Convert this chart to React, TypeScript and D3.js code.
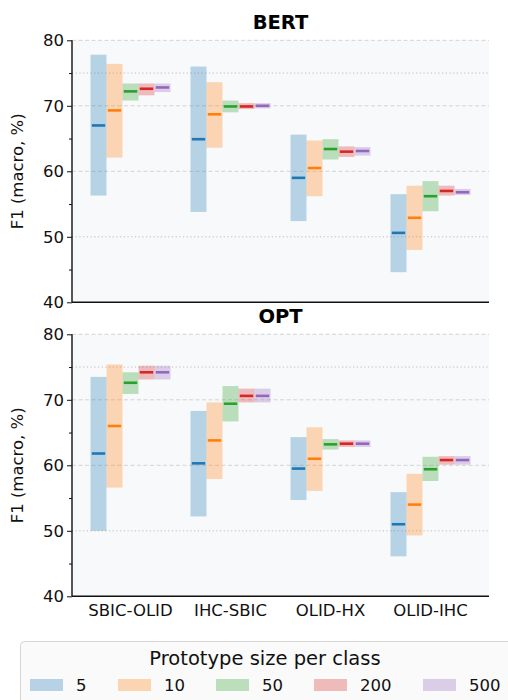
import React, { useEffect, useRef } from "react";
import * as d3 from "d3";

const categories = ["SBIC-OLID", "IHC-SBIC", "OLID-HX", "OLID-IHC"];
const sizes = ["5", "10", "50", "200", "500"];
const colors = ["#1f77b4", "#ff7f0e", "#2ca02c", "#d62728", "#9467bd"];
const yTicks = [40, 50, 60, 70, 80];
const yMinor = [45, 55, 65, 75];

// [low, high, mean] per category, one list per prototype size
const bert5 = [[56.3, 77.8, 67.0], [53.8, 76.0, 64.9], [52.4, 65.6, 59.0], [44.6, 56.5, 50.6]];
const bert10 = [[62.1, 76.4, 69.3], [63.6, 73.6, 68.7], [56.2, 64.7, 60.5], [48.0, 57.8, 52.9]];
const bert50 = [[70.8, 73.4, 72.2], [69.0, 70.8, 69.9], [61.8, 64.9, 63.4], [53.9, 58.5, 56.2]];
const bert200 = [[71.6, 73.4, 72.6], [69.5, 70.4, 69.9], [62.2, 63.8, 63.0], [56.3, 57.8, 57.0]];
const bert500 = [[72.1, 73.4, 72.8], [69.6, 70.4, 70.0], [62.4, 63.7, 63.1], [56.4, 57.3, 56.8]];

const opt5 = [[50.0, 73.5, 61.8], [52.2, 68.3, 60.3], [54.7, 64.3, 59.5], [46.1, 55.9, 51.0]];
const opt10 = [[56.6, 75.4, 66.0], [57.9, 69.6, 63.8], [56.1, 65.8, 61.0], [49.3, 58.7, 54.0]];
const opt50 = [[70.9, 74.2, 72.6], [66.7, 72.1, 69.4], [62.4, 64.0, 63.2], [57.6, 61.3, 59.4]];
const opt200 = [[73.1, 75.2, 74.2], [69.6, 71.7, 70.6], [62.8, 63.8, 63.3], [60.1, 61.4, 60.8]];
const opt500 = [[73.1, 75.2, 74.2], [69.6, 71.7, 70.6], [62.8, 63.8, 63.3], [60.1, 61.4, 60.8]];

const panels = [
  { title: "BERT", series: [bert5, bert10, bert50, bert200, bert500], top: 40.3, bottom: 302.3, titleY: 29 },
  { title: "OPT", series: [opt5, opt10, opt50, opt200, opt500], top: 334.3, bottom: 596.3, titleY: 323 },
];

const FONT = "DejaVu Sans, sans-serif";

export default function App() {
  const ref = useRef<SVGSVGElement>(null);

  useEffect(() => {
    const svg = d3.select(ref.current);
    svg.selectAll("*").remove();
    const left = 72, right = 489;

    const x = d3.scaleBand().domain(categories).range([left, right]).paddingInner(0.2).paddingOuter(0.185);
    const xi = d3.scaleBand().domain(sizes).range([0, x.bandwidth()]);

    panels.forEach((p, pi) => {
      const y = d3.scaleLinear().domain([40, 80]).range([p.bottom, p.top]);
      const g = svg.append("g");

      g.append("rect").attr("x", left).attr("y", p.top).attr("width", right - left)
        .attr("height", p.bottom - p.top).attr("fill", "#f8f9fb");

      // grid
      [80, 70, 60].forEach((v) => {
        g.append("line").attr("x1", left).attr("x2", right).attr("y1", y(v)).attr("y2", y(v))
          .attr("stroke", "#d4d4d4").attr("stroke-width", 1).attr("stroke-dasharray", "4,2.5");
      });
      [75, 50].forEach((v) => {
        g.append("line").attr("x1", left).attr("x2", right).attr("y1", y(v)).attr("y2", y(v))
          .attr("stroke", "#bdbdbd").attr("stroke-width", 1).attr("stroke-dasharray", "1.2,2.5");
      });

      // bars
      p.series.forEach((s, si) => {
        s.forEach((d, ci) => {
          const bx = (x(categories[ci]) as number) + (xi(sizes[si]) as number);
          const bw = xi.bandwidth();
          g.append("rect").attr("x", bx).attr("width", bw)
            .attr("y", y(d[1])).attr("height", y(d[0]) - y(d[1]))
            .attr("fill", colors[si]).attr("fill-opacity", 0.3);
          g.append("line").attr("x1", bx + bw * 0.08).attr("x2", bx + bw * 0.92)
            .attr("y1", y(d[2])).attr("y2", y(d[2]))
            .attr("stroke", colors[si]).attr("stroke-width", 2.6);
        });
      });

      // y axis
      const ya = g.append("g").attr("transform", `translate(${left},0)`)
        .call(d3.axisLeft(y).tickValues(yTicks).tickSize(5).tickPadding(3).tickFormat(d3.format("d")));
      ya.select(".domain").remove();
      ya.selectAll("text").attr("font-size", 16.5).attr("font-family", FONT).attr("fill", "#111");
      ya.selectAll("line").attr("stroke", "#111");
      const ym = g.append("g").attr("transform", `translate(${left},0)`)
        .call(d3.axisLeft(y).tickValues(yMinor).tickSize(3).tickFormat(() => ""));
      ym.select(".domain").remove();
      ym.selectAll("line").attr("stroke", "#111");

      // spines
      g.append("line").attr("x1", left).attr("x2", left).attr("y1", p.top).attr("y2", p.bottom)
        .attr("stroke", "#111").attr("stroke-width", 1.4);
      g.append("line").attr("x1", left).attr("x2", right).attr("y1", p.bottom).attr("y2", p.bottom)
        .attr("stroke", "#111").attr("stroke-width", 1.4);

      g.append("text").attr("x", (left + right) / 2).attr("y", p.titleY).attr("text-anchor", "middle")
        .attr("font-family", FONT).attr("font-weight", "bold").attr("font-size", 19.5).text(p.title);

      g.append("text").attr("transform", `translate(23,${(p.top + p.bottom) / 2}) rotate(-90)`)
        .attr("text-anchor", "middle").attr("font-family", FONT).attr("font-size", 16.5)
        .attr("fill", "#111").text("F1 (macro, %)");

      if (pi === 1) {
        const xa = g.append("g").attr("transform", `translate(0,${p.bottom})`)
          .call(d3.axisBottom(x).tickSize(0).tickPadding(8));
        xa.select(".domain").remove();
        xa.selectAll("text").attr("font-size", 16.5).attr("font-family", FONT).attr("fill", "#111");
      }
    });

    // legend
    const lg = svg.append("g");
    lg.append("rect").attr("x", 20.5).attr("y", 641.5).attr("width", 520).attr("height", 70)
      .attr("rx", 4).attr("fill", "#fafafa").attr("stroke", "#d6d6d6");
    lg.append("text").attr("x", 265).attr("y", 665).attr("text-anchor", "middle")
      .attr("font-family", FONT).attr("font-size", 19.5).attr("fill", "#111").text("Prototype size per class");
    const lxs = [30, 118, 216, 314, 423];
    sizes.forEach((s, i) => {
      const px = lxs[i];
      lg.append("rect").attr("x", px).attr("y", 679).attr("width", 33).attr("height", 12)
        .attr("fill", colors[i]).attr("fill-opacity", 0.3);
      lg.append("text").attr("x", px + 46).attr("y", 691).attr("font-family", FONT)
        .attr("font-size", 16.5).attr("fill", "#111").text(s);
    });
  }, []);

  return (
    <svg ref={ref} width={508} height={700} style={{ position: "absolute", left: 0, top: 0, background: "#fff" }} />
  );
}
